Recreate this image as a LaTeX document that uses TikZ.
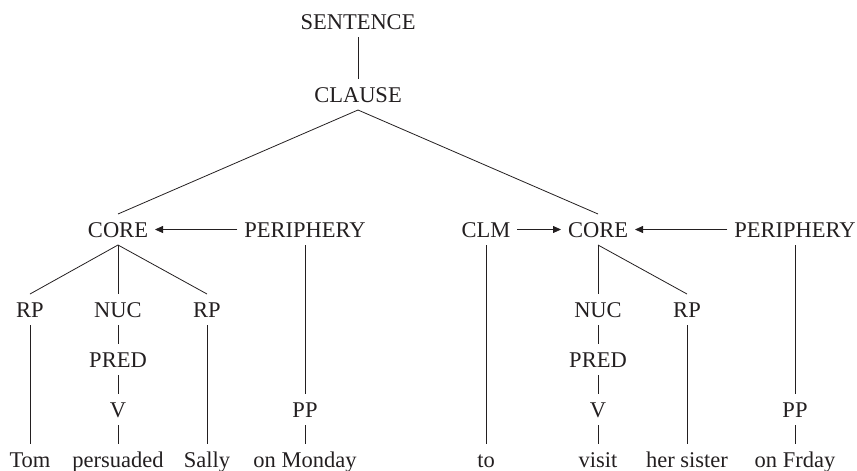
\documentclass[tikz,border=0pt]{standalone}
\usepackage{fontspec}
\setmainfont{Liberation Serif}
\usepackage{tikz}
\usetikzlibrary{arrows.meta,positioning}
\definecolor{ink}{RGB}{35,31,32}

\begin{document}
\begin{tikzpicture}[x=1pt, y=-1pt, node distance=50pt]
    % Define styles
    \tikzstyle{cat} = [text=ink, font=\fontsize{22.5}{27}\selectfont, text height=15pt, text depth=0pt, inner xsep=7pt, inner ysep=8pt, outer sep=0pt]
    \tikzstyle{branch} = [draw=ink, line width=0.8pt]
    \tikzstyle{arrow} = [branch, -{Triangle[length=8pt,width=7pt]}]
    \useasboundingbox (0,0) rectangle (857,471);

    % Top of the tree
    \node [cat] (sentence) at (358,21.5) {SENTENCE};
    \node [cat] (clause) at (358,94.5) {CLAUSE};

    % Core and periphery row
    \node [cat] (coreA) at (118,229.5) {CORE};
    \node [cat] (periA) at (305,229.5) {PERIPHERY};
    \node [cat] (clm) at (486,229.5) {CLM};
    \node [cat] (coreB) at (598,229.5) {CORE};
    \node [cat] (periB) at (795,229.5) {PERIPHERY};

    % Arguments and nuclei
    \node [cat] (rpA) at (30,309.5) {RP};
    \node [cat] (nucA) at (118,309.5) {NUC};
    \node [cat] (rpB) at (207,309.5) {RP};
    \node [cat] (nucB) at (598,309.5) {NUC};
    \node [cat] (rpC) at (687,309.5) {RP};

    \node [cat, below of=nucA] (predA) {PRED};
    \node [cat, below of=predA] (vA) {V};
    \node [cat, below of=nucB] (predB) {PRED};
    \node [cat, below of=predB] (vB) {V};
    \node [cat, below of=periA, node distance=180pt] (ppA) {PP};
    \node [cat, below of=periB, node distance=180pt] (ppB) {PP};

    % Words
    \node [cat, below of=rpA, node distance=150pt] (tom) {Tom};
    \node [cat, below of=vA] (persuaded) {persuaded};
    \node [cat, below of=rpB, node distance=150pt] (sally) {Sally};
    \node [cat, below of=ppA] (monday) {on Monday};
    \node [cat, below of=clm, node distance=230pt] (to) {to};
    \node [cat, below of=vB] (visit) {visit};
    \node [cat, below of=rpC, node distance=150pt] (sister) {her sister};
    \node [cat, below of=ppB] (friday) {on Frday};

    % Branches
    \draw [branch] (sentence) -- (clause);
    \draw [branch] (clause.south) -- (coreA.north);
    \draw [branch] (clause.south) -- (coreB.north);
    \draw [branch] (coreA.south) -- (rpA.north);
    \draw [branch] (coreA.south) -- (nucA.north);
    \draw [branch] (coreA.south) -- (rpB.north);
    \draw [branch] (coreB.south) -- (nucB.north);
    \draw [branch] (coreB.south) -- (rpC.north);
    \draw [branch] (nucA) -- (predA);
    \draw [branch] (predA) -- (vA);
    \draw [branch] (vA) -- (persuaded);
    \draw [branch] (nucB) -- (predB);
    \draw [branch] (predB) -- (vB);
    \draw [branch] (vB) -- (visit);
    \draw [branch] (rpA) -- (tom);
    \draw [branch] (rpB) -- (sally);
    \draw [branch] (rpC) -- (sister);
    \draw [branch] (periA) -- (ppA);
    \draw [branch] (ppA) -- (monday);
    \draw [branch] (periB) -- (ppB);
    \draw [branch] (ppB) -- (friday);
    \draw [branch] (clm) -- (to);

    % Arrows
    \draw [arrow] (periA) -- (coreA);
    \draw [arrow] (clm) -- (coreB);
    \draw [arrow] (periB) -- (coreB);

\end{tikzpicture}
\end{document}
